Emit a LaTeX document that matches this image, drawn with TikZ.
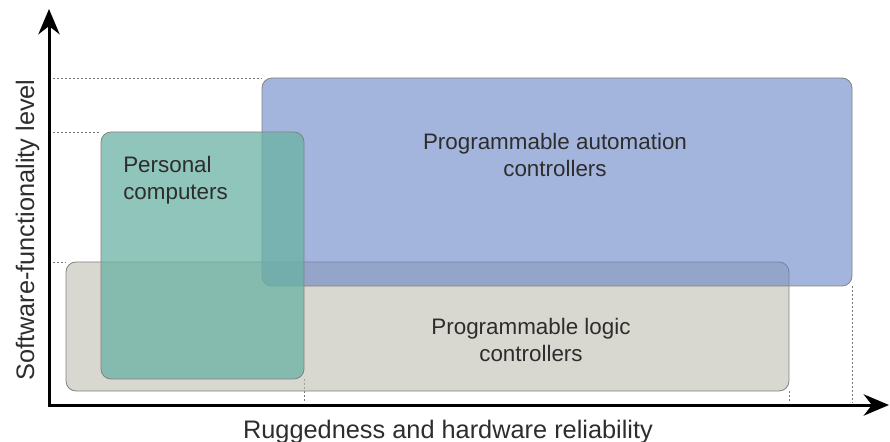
\documentclass[tikz,border=0pt]{standalone}
\usepackage{fontspec}
\setmainfont{Liberation Sans}
\usepackage{tikz}
\usetikzlibrary{arrows.meta}

\definecolor{pacblue}{RGB}{103,132,198}
\definecolor{pcteal}{RGB}{106,178,163}
\definecolor{plcgray}{RGB}{190,190,176}
\definecolor{labelgray}{RGB}{45,45,45}

\tikzset{
  region/.style={draw={rgb, 255:red, 130; green, 130; blue, 130}, line width=0.6pt, rounded corners=7.5pt},
  guide/.style={draw={rgb, 255:red, 120; green, 120; blue, 120}, line width=0.7pt, dash pattern={on 1.5pt off 1.5pt}},
  txt/.style={inner sep=0pt, text=labelgray, font=\fontsize{16.8}{20.5}\selectfont},
  axistxt/.style={inner sep=0pt, text=labelgray, font=\fontsize{19}{23}\selectfont}
}

\begin{document}
\begin{tikzpicture}[x=0.75pt,y=0.75pt,yscale=-1,xscale=1]
\useasboundingbox (0,0) rectangle (890,442);

%Dotted guide lines
\draw [guide] (53,78) -- (262,78) ;
\draw [guide] (53,132) -- (101,132) ;
\draw [guide] (53,262) -- (66,262) ;
\draw [guide] (304,379) -- (304,403) ;
\draw [guide] (789,391) -- (789,403) ;
\draw [guide] (852,286) -- (852,403) ;

%Shape: Rounded Rect -- logic controllers
\draw [region, fill=plcgray, fill opacity=0.6] (66,262) rectangle (789,391) ;
%Shape: Rounded Rect -- automation controllers
\draw [region, fill=pacblue, fill opacity=0.6] (262,78) rectangle (852,286) ;
%Shape: Rounded Rect -- personal computers
\draw [region, fill=pcteal, fill opacity=0.75] (101,132) rectangle (304,379) ;

%Axes
\coordinate (ytip) at (49,9) ;
\coordinate (origin) at (49,405) ;
\coordinate (xtip) at (889,405) ;
\draw [line width=2.25pt, {Stealth[length=19pt,width=16pt]}-{Stealth[length=19pt,width=16pt]}] (ytip) -- (origin) -- (xtip) ;

% Text Node
\node (paclabel) [txt, align=center] at (555,155) {Programmable automation\\controllers};
% Text Node
\node (pclabel) [txt, align=left, anchor=west] at (123,180) {Personal\\computers};
% Text Node
\node (plclabel) [txt, align=center] at (531,340) {Programmable logic\\controllers};
% Text Node
\node (xlabel) [axistxt, anchor=base] at (448,438) {Ruggedness and hardware reliability};
% Text Node
\node (ylabel) [axistxt, anchor=base, rotate=90] at (34,230) {Software-functionality level};
\end{tikzpicture}
\end{document}
